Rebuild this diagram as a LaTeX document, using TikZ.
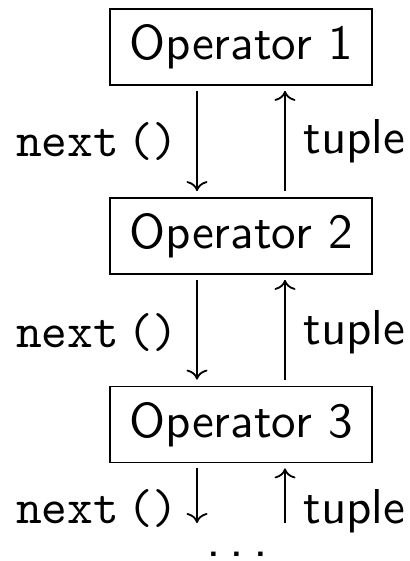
\documentclass[tikz,border=0pt]{standalone}
\usepackage{fontspec}
\setsansfont{lmsans10-regular.otf}
\setmonofont{lmmono10-regular.otf}
\usetikzlibrary{arrows.meta}
\begin{document}
\begin{tikzpicture}[x=0.5pt,y=-0.5pt,
  every node/.style={font=\sffamily\fontsize{24.5}{29}\selectfont},
  opbox/.style={draw, line width=0.9pt, minimum width=131pt, minimum height=38pt, inner sep=0pt},
  arr/.style={-{To[length=5pt,width=10.5pt]}, line width=0.9pt},
  lbl/.style={inner sep=0pt}]
\useasboundingbox[fill=white] (0,0) rectangle (409,561);
\node[opbox] (op1) at (241,47) {Operator 1};
\node[opbox] (op2) at (241,236) {Operator 2};
\node[opbox] (op3) at (241,424.5) {Operator 3};
% row 1
\draw[arr, shorten <=2.5pt, shorten >=3pt] ([xshift=-22pt]op1.south) -- ([xshift=-22pt]op2.north);
\draw[arr, shorten <=3pt, shorten >=2.5pt] ([xshift=22pt]op2.north) -- ([xshift=22pt]op1.south);
\node[lbl, anchor=base east] (n1) at (179,157) {\ttfamily next\,()};
\node[lbl, anchor=base west] (t1) at (303,154) {tuple};
% row 2
\draw[arr, shorten <=2.5pt, shorten >=3pt] ([xshift=-22pt]op2.south) -- ([xshift=-22pt]op3.north);
\draw[arr, shorten <=3pt, shorten >=2.5pt] ([xshift=22pt]op3.north) -- ([xshift=22pt]op2.south);
\node[lbl, anchor=base east] (n2) at (179,347) {\ttfamily next\,()};
\node[lbl, anchor=base west] (t2) at (303,344) {tuple};
% row 3
\coordinate (d3) at (197,523);
\coordinate (u3) at (285,523);
\draw[arr, shorten <=2.5pt] ([xshift=-22pt]op3.south) -- (d3);
\draw[arr, shorten >=2.5pt] (u3) -- ([xshift=22pt]op3.south);
\node[lbl, anchor=base east] (n3) at (179,523) {\ttfamily next\,()};
\node[lbl, anchor=base west] (t3) at (303,523) {tuple};
\node[lbl, anchor=base, font=\sffamily\fontsize{26.5}{30}\selectfont] (dots) at (237,556) {.\kern0.1667em.\kern0.1667em.};
\end{tikzpicture}
\end{document}
